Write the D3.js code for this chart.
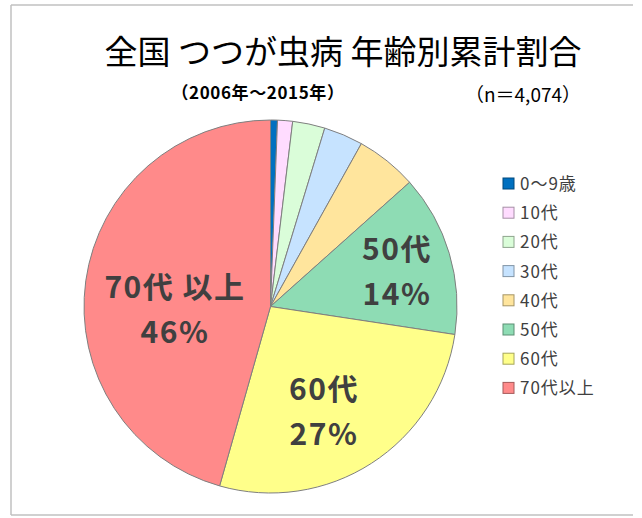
<!DOCTYPE html>
<html>
<head>
<meta charset="utf-8">
<script src="https://cdn.jsdelivr.net/npm/d3@7/dist/d3.min.js"></script>
<style>
html,body{margin:0;padding:0;background:#fff;}
svg{display:block;}
text{font-family:"Noto Sans CJK JP","Noto Sans",sans-serif;}
</style>
</head>
<body>
<svg id="chart" width="642" height="518"></svg>
<script>
const categories = ["0～9歳","10代","20代","30代","40代","50代","60代","70代以上"];
const values = [0.6, 1.3, 2.8, 3.4, 5.3, 14.0, 27.0, 45.6];
const colors = ["#0070C0","#FFDCFF","#DAFDD9","#C6E3FF","#FFE59D","#8EDCB4","#FFFF8A","#FF8A8A"];
const sliceLabels = [null,null,null,null,null,["50代","14%"],["60代","27%"],["70代 以上","46%"]];
const labelPos = [null,null,null,null,null,[397,249],[324,389],[175,287]];
const title = "全国 つつが虫病 年齢別累計割合";
const subtitle = "（2006年～2015年）";
const nLabel = "（n＝4,074）";

const svg = d3.select("#chart");
// frame
const frame = svg.append("g").attr("stroke","#c0c0c0").attr("stroke-width",1.5).attr("fill","none");
frame.append("line").attr("x1",11).attr("y1",5).attr("x2",633).attr("y2",5);
frame.append("line").attr("x1",11).attr("y1",5).attr("x2",11).attr("y2",515);
frame.append("line").attr("x1",11).attr("y1",515).attr("x2",633).attr("y2",515);

svg.append("text").attr("x",343).attr("y",64).attr("text-anchor","middle")
  .attr("font-size",33).attr("fill","#000").text(title);
svg.append("text").attr("x",258).attr("y",99).attr("text-anchor","middle")
  .attr("font-size",17).attr("font-weight","bold").attr("fill","#000")
  .attr("letter-spacing",0.6).text(subtitle);
svg.append("text").attr("x",523).attr("y",102).attr("text-anchor","middle")
  .attr("font-size",19).attr("fill","#000").text(nLabel);

const cx = 270.5, cy = 306.5, r = 186.5;
const data = categories.map((c,i)=>({cat:c, value:values[i], color:colors[i], i}));
const pie = d3.pie().value(d=>d.value).sort(null);
const arc = d3.arc().innerRadius(0).outerRadius(r);
const g = svg.append("g").attr("transform",`translate(${cx},${cy})`);
g.selectAll("path").data(pie(data)).join("path")
  .attr("d",arc).attr("fill",d=>d.data.color)
  .attr("stroke","#7f7f7f").attr("stroke-width",1).attr("stroke-linejoin","round");

data.forEach((d,i)=>{
  if(!sliceLabels[i]) return;
  const [x,y] = labelPos[i];
  const t = svg.append("text").attr("text-anchor","middle").attr("font-size",30)
    .attr("font-weight","bold").attr("fill","#404040").attr("letter-spacing",1.5);
  t.append("tspan").attr("x",x).attr("y",y+11).text(sliceLabels[i][0]);
  t.append("tspan").attr("x",x).attr("y",y+56).text(sliceLabels[i][1]);
});

// legend
const lg = svg.append("g").attr("transform","translate(503,178)");
const rows = lg.selectAll("g").data(data).join("g")
  .attr("transform",(d,i)=>`translate(0,${i*29.2})`);
rows.append("rect").attr("width",11).attr("height",11).attr("fill",d=>d.color)
  .attr("stroke",d=>d3.color(d.color).darker(1.2)).attr("stroke-width",1);
rows.append("text").attr("x",17).attr("y",12).attr("font-size",17).attr("fill","#404040")
  .attr("letter-spacing",1).text(d=>d.cat);
</script>
</body>
</html>
